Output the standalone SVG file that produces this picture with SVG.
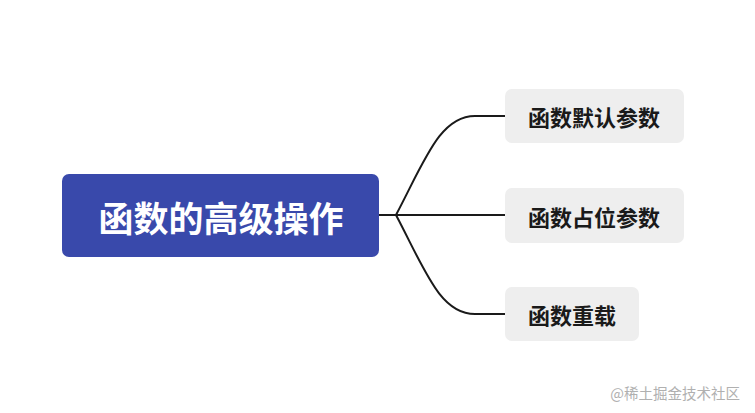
<svg xmlns="http://www.w3.org/2000/svg" width="755" height="413" viewBox="0 0 755 413">
<style>
.conn{fill:none;stroke:#1a1a1a;stroke-width:2;stroke-linecap:round}
.child rect{fill:#EEEEEE}
.child text{font-family:"Noto Sans CJK SC","Noto Sans",sans-serif;font-weight:700;font-size:22px;fill:#1a1a1a}
.main text{font-family:"Noto Sans CJK SC","Noto Sans",sans-serif;font-weight:700;font-size:35px;fill:#ffffff}
</style>
<rect width="755" height="413" fill="#ffffff"/>
<g id="connectors">
<path class="conn" d="M379,215 L396,215"/>
<path class="conn" d="M396,215 C425,160 440,116 475,116 L505,116"/>
<path class="conn" d="M396,215 L505,215"/>
<path class="conn" d="M396,215 C425,270 440,314 475,314 L505,314"/>
</g>
<g id="main" class="main">
<rect x="62" y="174" width="317" height="83" rx="7" fill="#3949AB"/>
<text x="221" y="216" text-anchor="middle" dominant-baseline="central">函数的高级操作</text>
</g>
<g id="n1" class="child">
<rect x="505" y="89" width="179" height="54" rx="7"/>
<text x="528" y="116" dominant-baseline="central">函数默认参数</text>
</g>
<g id="n2" class="child">
<rect x="505" y="188" width="179" height="55" rx="7"/>
<text x="528" y="215.5" dominant-baseline="central">函数占位参数</text>
</g>
<g id="n3" class="child">
<rect x="505" y="287" width="134" height="54" rx="7"/>
<text x="528" y="314" dominant-baseline="central">函数重载</text>
</g>
<text x="740" y="392" text-anchor="end" dominant-baseline="central" font-family="'Noto Sans CJK SC','Noto Sans',sans-serif" font-size="14.5" fill="#b0b0b0">@稀土掘金技术社区</text>
</svg>
